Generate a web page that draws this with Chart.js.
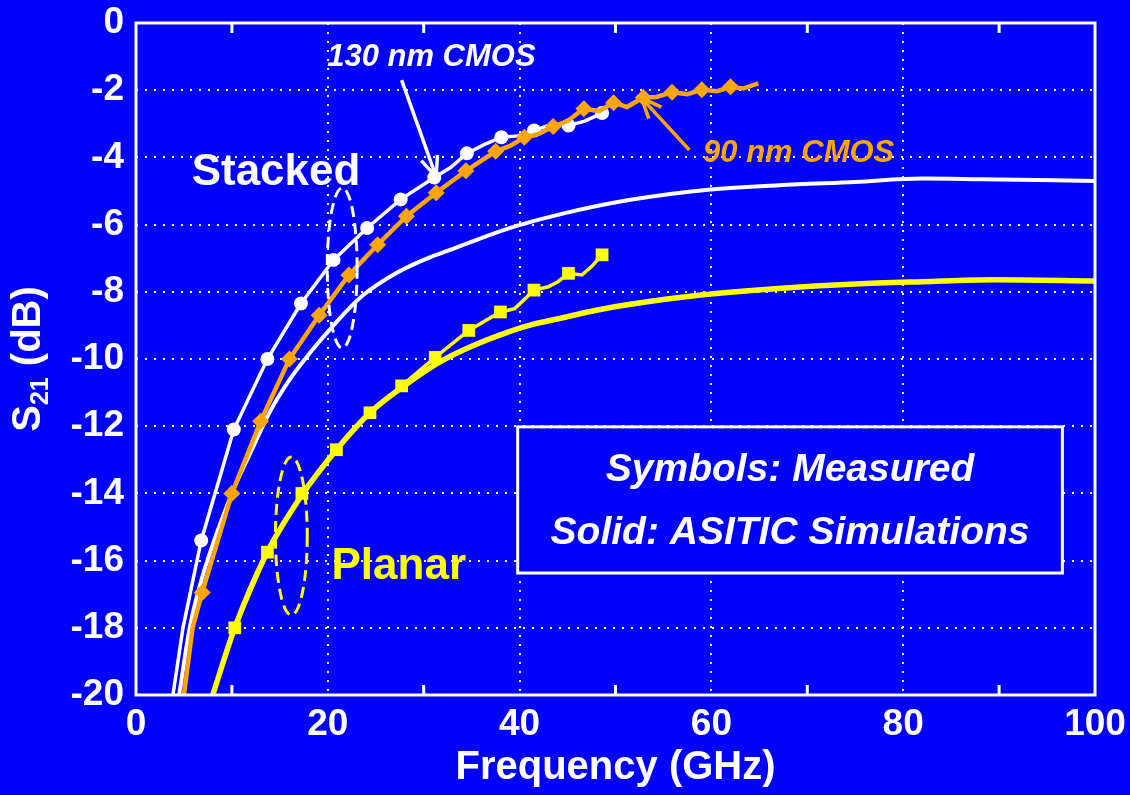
<!DOCTYPE html>
<html>
<head>
<meta charset="utf-8">
<script src="https://cdn.jsdelivr.net/npm/chart.js@4.4.1/dist/chart.umd.min.js"></script>
<style>
  html, body { margin: 0; padding: 0; background: #0000ff; }
  #wrap { width: 1130px; height: 795px; }
</style>
</head>
<body>
<div id="wrap"><canvas id="s21" width="1130" height="795"></canvas></div>
<script>
// S21 of stacked and planar inductors, measured vs ASITIC
const FONT = '"Liberation Sans", Arial, Helvetica, sans-serif';
const BLUE = '#0000ff';
const WHITE = '#ffffff';
const ORANGE = '#ffa500';
const YELLOW = '#ffff00';

const xTicks = [0, 20, 40, 60, 80, 100];
const xMinorTicks = [10, 30, 50, 70, 90];
const yTicks = [0, -2, -4, -6, -8, -10, -12, -14, -16, -18, -20];

// stacked, 130 nm CMOS, measured trace + frequencies carrying a circle
const cmos130Freq = [3.85, 4.9, 6.8, 10.2, 13.7, 17.2, 20.6, 24.1, 27.6, 31.1, 32.8, 34.5, 36.3, 38.1, 39.8, 41.5, 43.3, 45.1, 46.8, 48.6];
const cmos130Db   = [-20, -18.0, -15.4, -12.1, -10.0, -8.35, -7.05, -6.1, -5.25, -4.6, -4.3, -3.88, -3.62, -3.4, -3.36, -3.2, -3.02, -3.05, -2.92, -2.68];
const cmos130Sym  = [6.8, 10.2, 13.7, 17.2, 20.6, 24.1, 27.6, 31.1, 34.5, 38.1, 41.5, 45.1, 48.6];

// stacked, 90 nm CMOS, measured trace + frequencies carrying a diamond
const cmos90Freq = [5.0, 5.9, 6.9, 10.0, 13.0, 16.0, 19.1, 22.2, 25.2, 28.2, 31.3, 34.4, 37.5, 39.0, 40.5, 42.0, 43.5, 45.0, 46.7, 48.3, 49.8, 51.2, 52.9, 54.3, 55.9, 57.5, 59.0, 60.6, 62.0, 63.3, 64.9];
const cmos90Db   = [-20, -18.0, -16.95, -14.0, -11.85, -10.0, -8.7, -7.5, -6.6, -5.75, -5.05, -4.4, -3.82, -3.66, -3.4, -3.3, -3.08, -2.92, -2.55, -2.62, -2.37, -2.5, -2.22, -2.2, -2.06, -2.12, -1.99, -2.03, -1.9, -1.95, -1.8];
const cmos90Sym  = [6.9, 10.0, 13.0, 16.0, 19.1, 22.2, 25.2, 28.2, 31.3, 34.4, 37.5, 40.5, 43.5, 46.7, 49.8, 52.9, 55.9, 59.0, 62.0];

// stacked, ASITIC simulation
const stackedSimFreq = [4.5, 5.6, 6.9, 10.0, 12.0, 14.0, 16.0, 18.1, 20.9, 23.6, 27.1, 30.0, 32.6, 36.0, 39.7, 44.4, 51.4, 59.4, 67.0, 75.0, 82.0, 88.0, 100];
const stackedSimDb   = [-20, -18.0, -16.5, -14.0, -12.75, -11.55, -10.62, -9.83, -8.9, -8.12, -7.45, -7.05, -6.77, -6.4, -6.04, -5.68, -5.27, -4.97, -4.83, -4.73, -4.63, -4.65, -4.7];

// planar, measured trace + frequencies carrying a square
const planarFreq = [8.0, 10.3, 13.7, 17.3, 20.9, 24.4, 27.7, 31.2, 34.7, 38.0, 39.5, 41.5, 43.0, 44.0, 45.1, 46.5, 47.5, 48.6];
const planarDb   = [-20, -18.0, -15.75, -14.0, -12.7, -11.6, -10.8, -9.95, -9.15, -8.6, -8.5, -7.95, -7.85, -7.7, -7.45, -7.5, -7.25, -6.9];
const planarSym  = [10.3, 13.7, 17.3, 20.9, 24.4, 27.7, 31.2, 34.7, 38.0, 41.5, 45.1, 48.6];

// planar, ASITIC simulation
const planarSimFreq = [8.0, 10.3, 13.6, 17.3, 20.9, 24.4, 28.2, 31.6, 35.0, 38.0, 41.0, 44.4, 48.0, 51.4, 55.0, 59.4, 67.0, 75.0, 82.0, 89.4, 100];
const planarSimDb   = [-20, -18.0, -15.8, -14.05, -12.7, -11.6, -10.75, -10.1, -9.62, -9.28, -9.0, -8.78, -8.55, -8.38, -8.23, -8.08, -7.9, -7.77, -7.7, -7.64, -7.68];

const pts = (xs, ys) => xs.map((x, i) => ({ x: x, y: ys[i] }));
const symbolRadius = (freqs, r) => {
  const marked = new Set(freqs);
  return c => (c.raw && marked.has(c.raw.x)) ? r : 0;
};

const datasets = [
  {
    data: pts(cmos90Freq, cmos90Db),
    borderColor: ORANGE, backgroundColor: ORANGE, borderWidth: 4.5,
    pointStyle: 'rectRot', pointRadius: symbolRadius(cmos90Sym, 8.5),
    pointBorderWidth: 0, order: 1
  },
  {
    data: pts(planarFreq, planarDb),
    borderColor: YELLOW, backgroundColor: YELLOW, borderWidth: 3.5,
    pointStyle: 'rect', pointRadius: symbolRadius(planarSym, 9),
    pointBorderWidth: 0, order: 2
  },
  {
    data: pts(cmos130Freq, cmos130Db),
    borderColor: WHITE, backgroundColor: WHITE, borderWidth: 3.5,
    pointStyle: 'circle', pointRadius: symbolRadius(cmos130Sym, 7),
    pointBorderWidth: 0, order: 3
  },
  {
    data: pts(planarSimFreq, planarSimDb),
    borderColor: YELLOW, borderWidth: 5.5, pointRadius: 0,
    cubicInterpolationMode: 'monotone', order: 4
  },
  {
    data: pts(stackedSimFreq, stackedSimDb),
    borderColor: WHITE, borderWidth: 4, pointRadius: 0,
    cubicInterpolationMode: 'monotone', order: 5
  }
];

// annotations, in data units (GHz, dB)
const labelTexts = [
  { text: '130 nm CMOS', x: 30.8, y: -1.03, color: WHITE, font: 'italic bold 31px ' + FONT },
  { text: '90 nm CMOS', x: 69.1, y: -3.87, color: ORANGE, font: 'italic bold 31px ' + FONT },
  { text: 'Stacked', x: 14.6, y: -4.45, color: WHITE, font: 'bold 44px ' + FONT },
  { text: 'Planar', x: 27.4, y: -16.2, color: YELLOW, font: 'bold 44px ' + FONT }
];
const arrows = [
  { from: [27.7, -1.7], to: [31.3, -4.58], color: WHITE },
  { from: [57.7, -3.78], to: [52.7, -2.23], color: ORANGE }
];
const ellipses = [
  { x: 21.5, y: -7.29, rx: 1.56, ry: 2.38, color: WHITE },
  { x: 16.2, y: -15.27, rx: 1.66, ry: 2.35, color: YELLOW }
];
const noteBox = { x0: 39.8, x1: 96.6, y0: -12.02, y1: -16.37 };
const noteLines = ['Symbols: Measured', 'Solid: ASITIC Simulations'];
const noteLineY = [-13.3, -15.18];

const framePlugin = {
  id: 'frame',
  beforeDatasetsDraw(chart) {
    const { ctx, chartArea: a, scales: { x, y } } = chart;
    ctx.save();
    ctx.strokeStyle = WHITE;
    ctx.lineWidth = 2;
    ctx.setLineDash([2, 7]);
    xTicks.slice(1, -1).forEach(v => {
      const p = Math.round(x.getPixelForValue(v));
      ctx.beginPath(); ctx.moveTo(p, a.top); ctx.lineTo(p, a.bottom); ctx.stroke();
    });
    yTicks.slice(1, -1).forEach(v => {
      const p = Math.round(y.getPixelForValue(v));
      ctx.beginPath(); ctx.moveTo(a.left, p); ctx.lineTo(a.right, p); ctx.stroke();
    });
    ctx.restore();
  },
  afterDatasetsDraw(chart) {
    const { ctx, chartArea: a, scales: { x, y } } = chart;
    const X = v => x.getPixelForValue(v);
    const Y = v => y.getPixelForValue(v);
    ctx.save();

    // minor tick marks, inside top and bottom
    ctx.strokeStyle = WHITE;
    ctx.lineWidth = 3;
    xMinorTicks.forEach(v => {
      const p = X(v);
      ctx.beginPath();
      ctx.moveTo(p, a.top); ctx.lineTo(p, a.top + 10);
      ctx.moveTo(p, a.bottom); ctx.lineTo(p, a.bottom - 10);
      ctx.stroke();
    });
    ctx.strokeRect(a.left, a.top, a.right - a.left, a.bottom - a.top);

    // note box
    const bx = X(noteBox.x0), by = Y(noteBox.y0);
    const bw = X(noteBox.x1) - bx, bh = Y(noteBox.y1) - by;
    ctx.fillStyle = BLUE;
    ctx.fillRect(bx, by, bw, bh);
    ctx.lineWidth = 3;
    ctx.strokeRect(bx, by, bw, bh);
    ctx.fillStyle = WHITE;
    ctx.font = 'italic bold 39px ' + FONT;
    ctx.textAlign = 'center';
    ctx.textBaseline = 'middle';
    noteLines.forEach((t, i) => ctx.fillText(t, bx + bw / 2, Y(noteLineY[i])));

    // dashed ellipses grouping the traces
    ctx.lineWidth = 3;
    ctx.setLineDash([11, 6]);
    ellipses.forEach(e => {
      ctx.strokeStyle = e.color;
      ctx.beginPath();
      ctx.ellipse(X(e.x), Y(e.y), X(e.x + e.rx) - X(e.x), Y(e.y - e.ry) - Y(e.y), 0, 0, Math.PI * 2);
      ctx.stroke();
    });
    ctx.setLineDash([]);

    // arrows
    arrows.forEach(ar => {
      const x0 = X(ar.from[0]), y0 = Y(ar.from[1]);
      const x1 = X(ar.to[0]), y1 = Y(ar.to[1]);
      const ang = Math.atan2(y1 - y0, x1 - x0);
      ctx.strokeStyle = ar.color;
      ctx.lineWidth = 3.5;
      ctx.beginPath();
      ctx.moveTo(x0, y0); ctx.lineTo(x1, y1);
      [-0.4, 0.4].forEach(d => {
        ctx.moveTo(x1, y1);
        ctx.lineTo(x1 - 22 * Math.cos(ang + d), y1 - 22 * Math.sin(ang + d));
      });
      ctx.stroke();
    });

    // labels
    labelTexts.forEach(l => {
      ctx.font = l.font;
      ctx.fillStyle = l.color;
      ctx.fillText(l.text, X(l.x), Y(l.y));
    });

    // axis titles
    ctx.fillStyle = WHITE;
    ctx.font = 'bold 40px ' + FONT;
    ctx.fillText('Frequency (GHz)', (a.left + a.right) / 2, 768);

    ctx.translate(29, (a.top + a.bottom) / 2);
    ctx.rotate(-Math.PI / 2);
    const big = 'bold 40px ' + FONT, small = 'bold 25px ' + FONT;
    ctx.font = big;
    const wS = ctx.measureText('S').width, wT = ctx.measureText(' (dB)').width;
    ctx.font = small;
    const wSub = ctx.measureText('21').width;
    let cx = -(wS + wSub + wT) / 2;
    ctx.textAlign = 'left';
    ctx.font = big; ctx.fillText('S', cx, 0); cx += wS;
    ctx.font = small; ctx.fillText('21', cx, 12); cx += wSub;
    ctx.font = big; ctx.fillText(' (dB)', cx, 0);
    ctx.restore();
  }
};

new Chart(document.getElementById('s21'), {
  type: 'line',
  data: { datasets: datasets },
  options: {
    responsive: false,
    animation: false,
    devicePixelRatio: 1,
    events: [],
    layout: { padding: { top: 23, right: 35, left: 0, bottom: 0 } },
    elements: { line: { tension: 0 } },
    plugins: { legend: { display: false }, tooltip: { enabled: false } },
    scales: {
      x: {
        type: 'linear', min: 0, max: 100,
        afterFit: s => { s.height = 100; s.paddingLeft = 0; s.paddingRight = 0; },
        afterBuildTicks: s => { s.ticks = xTicks.map(v => ({ value: v })); },
        grid: { display: false, drawTicks: false },
        border: { display: false },
        ticks: { color: WHITE, padding: 8, maxRotation: 0, autoSkip: false,
                 font: { family: FONT, size: 37, weight: 'bold' } }
      },
      y: {
        type: 'linear', min: -20, max: 0,
        afterFit: s => { s.width = 136; s.paddingTop = 0; s.paddingBottom = 0; },
        afterBuildTicks: s => { s.ticks = yTicks.map(v => ({ value: v })); },
        grid: { display: false, drawTicks: false },
        border: { display: false },
        ticks: { color: WHITE, padding: 12, autoSkip: false,
                 font: { family: FONT, size: 37, weight: 'bold' } }
      }
    }
  },
  plugins: [framePlugin]
});
</script>
</body>
</html>
